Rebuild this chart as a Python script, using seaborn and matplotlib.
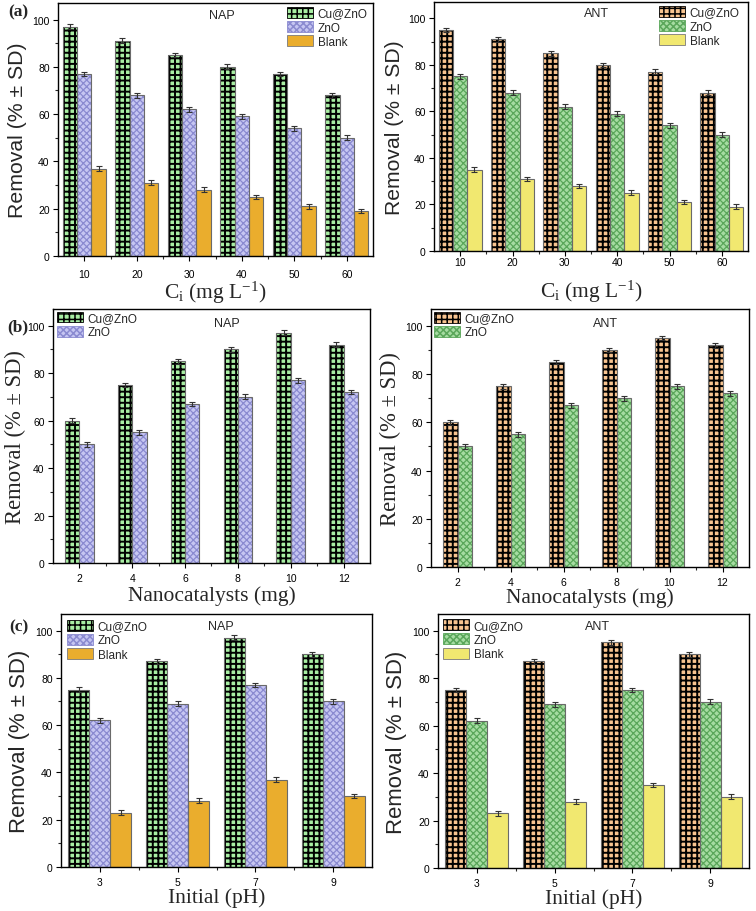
import numpy as np
import pandas as pd
import matplotlib
matplotlib.use("Agg")
import matplotlib.pyplot as plt
import matplotlib.patches as mpatches
from matplotlib.ticker import MultipleLocator, FixedLocator
import seaborn as sns

sns.set_style("ticks")
plt.rcParams["font.family"] = ["Liberation Sans", "DejaVu Sans"]
plt.rcParams["mathtext.fontset"] = "custom"
plt.rcParams["mathtext.rm"] = "Liberation Serif"
plt.rcParams["mathtext.it"] = "Liberation Serif:italic"
plt.rcParams["mathtext.bf"] = "Liberation Serif:bold"
plt.rcParams["hatch.linewidth"] = 1.1

# ---------------- data ----------------
series3 = ["Cu@ZnO", "ZnO", "Blank"]
series2 = ["Cu@ZnO", "ZnO"]

conc_labels = ["10", "20", "30", "40", "50", "60"]
dose_labels = ["2", "4", "6", "8", "10", "12"]
ph_labels = ["3", "5", "7", "9"]

# (a) initial concentration
nap_conc_cu = [97, 91, 85, 80, 77, 68]
nap_conc_zno = [77, 68, 62, 59, 54, 50]
nap_conc_blank = [37, 31, 28, 25, 21, 19]
ant_conc_cu = [95, 91, 85, 80, 77, 68]
ant_conc_zno = [75, 68, 62, 59, 54, 50]
ant_conc_blank = [35, 31, 28, 25, 21, 19]

# (b) nanocatalyst dose
nap_dose_cu = [60, 75, 85, 90, 97, 92]
nap_dose_zno = [50, 55, 67, 70, 77, 72]
ant_dose_cu = [60, 75, 85, 90, 95, 92]
ant_dose_zno = [50, 55, 67, 70, 75, 72]

# (c) initial pH
nap_ph_cu = [75, 87, 97, 90]
nap_ph_zno = [62, 69, 77, 70]
nap_ph_blank = [23, 28, 37, 30]
ant_ph_cu = [75, 87, 95, 90]
ant_ph_zno = [62, 69, 75, 70]
ant_ph_blank = [23, 28, 35, 30]

# standard deviations
sd6 = [1, 1, 1, 1, 1, 1]
sd4 = [1, 1, 1, 1]

# ---------------- styles ----------------
NAP_STYLE = {
    "Cu@ZnO": dict(face="#a8eea3", hatch="+++", hc="#000000", hlw=1.4),
    "ZnO": dict(face="#c6c6f2", hatch="xxxxx", hc="#8a8ad0", hlw=0.9),
    "Blank": dict(face="#eaad2d", hatch="", hc="#7a7a7a", hlw=1.0),
}
ANT_STYLE = {
    "Cu@ZnO": dict(face="#f8c490", hatch="+++", hc="#000000", hlw=1.4),
    "ZnO": dict(face="#a6dca2", hatch="xxxxx", hc="#5aa65a", hlw=0.9),
    "Blank": dict(face="#f1e870", hatch="", hc="#7a7a7a", hlw=1.0),
}

W, H = 756, 912
fig = plt.figure(figsize=(W / 100, H / 100), dpi=100)


def px_axes(l, r, t, b):
    return fig.add_axes([l / W, 1 - b / H, (r - l) / W, (b - t) / H])


def style_patch(p, st, lw=0):
    p.set_hatch(st["hatch"])
    p.set_edgecolor(st["hc"])
    p.set_linewidth(lw)
    if hasattr(p, "set_hatch_linewidth"):
        p.set_hatch_linewidth(st["hlw"])


def panel(ax, cats, series, values, sds, style, width, ylabel_serif, xlabel,
          tag, tagpos, legpos, ylab_x, xlab_y, xpad, ylab_size):
    rows = []
    for s, vals in zip(series, values):
        for c, v in zip(cats, vals):
            rows.append(dict(cat=c, series=s, val=v))
    df = pd.DataFrame(rows)
    sns.barplot(data=df, x="cat", y="val", hue="series", order=cats,
                hue_order=series, palette={s: style[s]["face"] for s in series},
                width=width, saturation=1, errorbar=None, legend=False, ax=ax)
    for cont, s, sd in zip(ax.containers, series, sds):
        st = style[s]
        xs, hs = [], []
        for p in cont:
            style_patch(p, st)
            ax.add_patch(mpatches.Rectangle(p.get_xy(), p.get_width(), p.get_height(),
                                            fill=False, ec="#6a6a6a", lw=0.8,
                                            zorder=p.get_zorder() + 0.1))
            xs.append(p.get_x() + p.get_width() / 2)
            hs.append(p.get_height())
        ax.errorbar(xs, hs, yerr=sd, fmt="none", ecolor="#333333",
                    elinewidth=0.8, capsize=2.5, capthick=0.8, zorder=5)

    n = len(cats)
    ax.set_xlim(-0.5, n - 0.5)
    ax.set_ylim(0, 107)
    ax.yaxis.set_major_locator(MultipleLocator(20))
    ax.yaxis.set_minor_locator(MultipleLocator(10))
    ax.xaxis.set_minor_locator(FixedLocator([i + 0.5 for i in range(n - 1)]))
    ax.tick_params(axis="both", which="major", direction="out", length=3.5,
                   width=0.8, labelsize=7.5, colors="black")
    ax.tick_params(axis="x", which="major", pad=xpad)
    ax.tick_params(axis="y", which="major", pad=2.5)
    ax.tick_params(axis="both", which="minor", direction="out", length=2,
                   width=0.8)
    for sp in ax.spines.values():
        sp.set_visible(True)
        sp.set_color("black")
        sp.set_linewidth(1.0)
    ax.grid(False)

    if ylabel_serif:
        ax.set_ylabel("Removal (% ± SD)", fontsize=ylab_size, va="center",
                      family=["Liberation Serif", "DejaVu Serif"])
    else:
        ax.set_ylabel("Removal (% ± SD)", fontsize=ylab_size, va="center")
    ax.yaxis.set_label_coords(ylab_x, 0.5)
    ax.set_xlabel(xlabel, fontsize=15.5, family=["Liberation Serif", "DejaVu Serif"],
                  va="center")
    ax.xaxis.set_label_coords(0.5, xlab_y)

    ax.text(tagpos[0], tagpos[1], tag, transform=ax.transAxes, ha="center",
            va="center", fontsize=9)

    handles = []
    for s in series:
        st = style[s]
        h = mpatches.Patch(facecolor=st["face"], label=s)
        style_patch(h, st, lw=0.6)
        handles.append(h)
    ax.legend(handles=handles, loc="upper left", bbox_to_anchor=legpos,
              frameon=False, fontsize=8.5, borderpad=0, borderaxespad=0,
              handlelength=2.2, handleheight=1.05, handletextpad=0.4,
              labelspacing=0.15)


ci_label = r"C$_\mathrm{i}$ (mg L$^\mathrm{-1}$)"

# (a)
ax = px_axes(58, 373, 4, 257)
panel(ax, conc_labels, series3, [nap_conc_cu, nap_conc_zno, nap_conc_blank],
      [sd6, sd6, sd6], NAP_STYLE, 0.82, False, ci_label, "NAP", (0.52, 0.953),
      (0.727, 0.985), -0.127, -0.14, 6, 15.3)
ax = px_axes(434, 748, 3, 252)
panel(ax, conc_labels, series3, [ant_conc_cu, ant_conc_zno, ant_conc_blank],
      [sd6, sd6, sd6], ANT_STYLE, 0.82, False, ci_label, "ANT", (0.516, 0.956),
      (0.717, 0.985), -0.127, -0.16, 1, 15.2)

# (b)
ax = px_axes(53, 370, 310, 564)
panel(ax, dose_labels, series2, [nap_dose_cu, nap_dose_zno], [sd6, sd6],
      NAP_STYLE, 0.54, True, "Nanocatalysts (mg)", "NAP", (0.55, 0.945),
      (0.013, 0.99), -0.12, -0.125, 3.5, 16.3)
ax = px_axes(431, 749, 310, 568)
panel(ax, dose_labels, series2, [ant_dose_cu, ant_dose_zno], [sd6, sd6],
      ANT_STYLE, 0.54, True, "Nanocatalysts (mg)", "ANT", (0.55, 0.946),
      (0.01, 0.99), -0.126, -0.115, 3.5, 16.3)

# (c)
ax = px_axes(61, 372, 615, 868)
panel(ax, ph_labels, series3, [nap_ph_cu, nap_ph_zno, nap_ph_blank],
      [sd4, sd4, sd4], NAP_STYLE, 0.81, False, "Initial (pH)", "NAP", (0.514, 0.953),
      (0.019, 0.978), -0.132, -0.12, 3.5, 15.9)
ax = px_axes(438, 749, 615, 869)
panel(ax, ph_labels, series3, [ant_ph_cu, ant_ph_zno, ant_ph_blank],
      [sd4, sd4, sd4], ANT_STYLE, 0.81, False, "Initial (pH)", "ANT", (0.514, 0.954),
      (0.016, 0.98), -0.132, -0.12, 3.5, 15.9)

# panel tags
for tag, (x, y) in {"(a)": (18, 12), "(b)": (18, 327), "(c)": (19, 627)}.items():
    fig.text(x / W, 1 - y / H, tag, ha="center", va="center", fontsize=12.5,
             fontweight="bold", family=["Liberation Serif", "DejaVu Serif"])

fig.savefig("out.png", dpi=100)
